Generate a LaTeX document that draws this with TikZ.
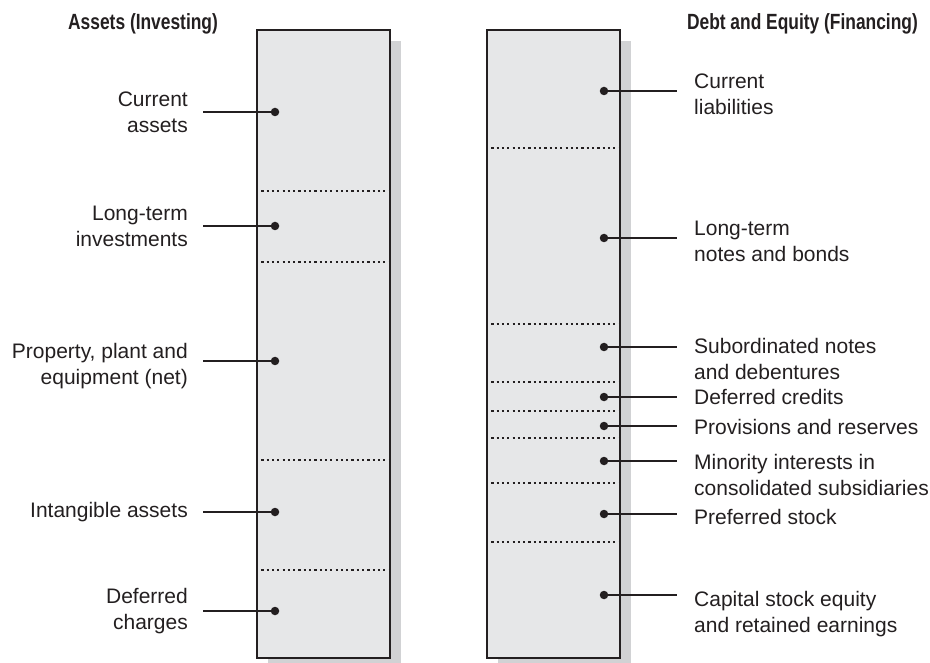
\documentclass[tikz,border=0pt]{standalone}
\usepackage{fontspec}
\setmainfont{Liberation Sans}
\newfontfamily\headfont{Liberation Sans}[FakeStretch=0.79]
\usetikzlibrary{shadows,positioning,calc}
\definecolor{inkdark}{HTML}{231F20}
\definecolor{boxfill}{HTML}{E6E7E8}
\definecolor{boxshade}{HTML}{D1D2D4}
\tikzset{
    column/.style={
        rectangle,                % tall balance-sheet column
        draw=inkdark,
        line width=2pt,           % heavy outline
        fill=boxfill,             % light grey body
        minimum width=133pt,
        minimum height=628pt,
        inner sep=0pt,
        drop shadow={shadow xshift=11pt, shadow yshift=-11pt, fill=boxshade, opacity=1}
    },
    divider/.style={
        draw=inkdark,
        line width=2.2pt,
        dash pattern=on 2.2pt off 3.1pt  % fine dotted separator
    },
    leaderdot/.style={
        circle,
        fill=inkdark,
        inner sep=0pt,
        minimum size=8.5pt
    },
    leader/.style={
        draw=inkdark,
        line width=2pt
    },
    itemtext/.style={
        text=inkdark,
        font=\fontsize{21}{26}\selectfont,
        inner xsep=15pt,          % gap between leader and text
        inner ysep=0pt
    },
    heading/.style={
        text=inkdark,
        font=\fontsize{22}{26}\selectfont\headfont\bfseries,
        inner sep=0pt
    }
}
\begin{document}
\begin{tikzpicture}[x=1pt, y=-1pt]
    \useasboundingbox (0,0) rectangle (930,663);

    % columns
    \node[column] (assets) at (323.5,344) {};
    \node[column] (claims) at (553.5,344) {};

    \node[heading, anchor=west] (asshead) at (68,24) {Assets (Investing)};
    \node[heading, anchor=east] (clmhead) at (918,24) {Debt and Equity (Financing)};

    % asset dividers
    \draw[divider] (assets.west |- 0,191) -- (assets.east |- 0,191);
    \draw[divider] (assets.west |- 0,262) -- (assets.east |- 0,262);
    \draw[divider] (assets.west |- 0,460) -- (assets.east |- 0,460);
    \draw[divider] (assets.west |- 0,570) -- (assets.east |- 0,570);

    % financing dividers
    \draw[divider] (claims.west |- 0,148) -- (claims.east |- 0,148);
    \draw[divider] (claims.west |- 0,324) -- (claims.east |- 0,324);
    \draw[divider] (claims.west |- 0,382) -- (claims.east |- 0,382);
    \draw[divider] (claims.west |- 0,411) -- (claims.east |- 0,411);
    \draw[divider] (claims.west |- 0,438) -- (claims.east |- 0,438);
    \draw[divider] (claims.west |- 0,483) -- (claims.east |- 0,483);
    \draw[divider] (claims.west |- 0,542) -- (claims.east |- 0,542);

    % asset items
    \node[leaderdot] (curassdot) at (275,112) {};
    \node[leaderdot] (ltinvdot) at (275,226) {};
    \node[leaderdot] (ppedot) at (275,361) {};
    \node[leaderdot] (intandot) at (275,512) {};
    \node[leaderdot] (defchdot) at (275,611) {};

    \node[itemtext, align=right, left=72pt of curassdot.center] (curass) {Current\\assets};
    \node[itemtext, align=right, left=72pt of ltinvdot.center] (ltinv) {Long-term\\investments};
    \node[itemtext, align=right, left=72pt of ppedot.center, yshift=-5pt] (ppe) {Property, plant and\\equipment (net)};
    \node[itemtext, align=right, left=72pt of intandot.center] (intan) {Intangible assets};
    \node[itemtext, align=right, left=72pt of defchdot.center] (defch) {Deferred\\charges};

    \draw[leader] (curass.east |- curassdot) -- (curassdot.center);
    \draw[leader] (ltinv.east |- ltinvdot) -- (ltinvdot.center);
    \draw[leader] (ppe.east |- ppedot) -- (ppedot.center);
    \draw[leader] (intan.east |- intandot) -- (intandot.center);
    \draw[leader] (defch.east |- defchdot) -- (defchdot.center);

    % financing items
    \node[leaderdot] (curliadot) at (604,91) {};
    \node[leaderdot] (ltnotdot) at (604,238) {};
    \node[leaderdot] (subnotdot) at (604,347) {};
    \node[leaderdot] (defcrdot) at (604,397) {};
    \node[leaderdot] (provdot) at (604,426) {};
    \node[leaderdot] (minintdot) at (604,461) {};
    \node[leaderdot] (prefdot) at (604,514) {};
    \node[leaderdot] (capstdot) at (604,595) {};

    \node[itemtext, align=left, right=73pt of curliadot.center, yshift=-3pt, inner xsep=17pt] (curlia) {Current\\liabilities};
    \node[itemtext, align=left, right=73pt of ltnotdot.center, yshift=-3pt, inner xsep=17pt] (ltnot) {Long-term\\notes and bonds};
    \node[itemtext, align=left, right=73pt of subnotdot.center, yshift=-12pt, inner xsep=17pt] (subnot) {Subordinated notes\\and debentures};
    \node[itemtext, align=left, right=73pt of defcrdot.center, inner xsep=17pt] (defcr) {Deferred credits};
    \node[itemtext, align=left, right=73pt of provdot.center, yshift=-1pt, inner xsep=17pt] (prov) {Provisions and reserves};
    \node[itemtext, align=left, right=73pt of minintdot.center, yshift=-14pt, inner xsep=17pt] (minint) {Minority interests in\\consolidated subsidiaries};
    \node[itemtext, align=left, right=73pt of prefdot.center, yshift=-3pt, inner xsep=17pt] (pref) {Preferred stock};
    \node[itemtext, align=left, right=73pt of capstdot.center, yshift=-19pt, inner xsep=17pt] (capst) {Capital stock equity\\and retained earnings};

    \draw[leader] (curliadot.center) -- (curliadot -| curlia.west);
    \draw[leader] (ltnotdot.center) -- (ltnotdot -| ltnot.west);
    \draw[leader] (subnotdot.center) -- (subnotdot -| subnot.west);
    \draw[leader] (defcrdot.center) -- (defcrdot -| defcr.west);
    \draw[leader] (provdot.center) -- (provdot -| prov.west);
    \draw[leader] (minintdot.center) -- (minintdot -| minint.west);
    \draw[leader] (prefdot.center) -- (prefdot -| pref.west);
    \draw[leader] (capstdot.center) -- (capstdot -| capst.west);
\end{tikzpicture}
\end{document}
